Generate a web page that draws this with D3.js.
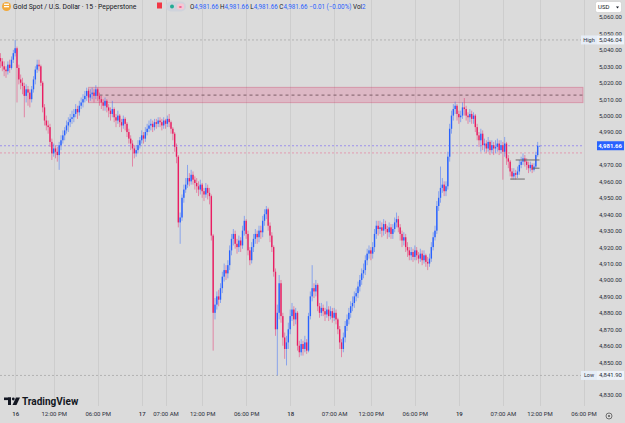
<!DOCTYPE html>
<html>
<head>
<meta charset="utf-8">
<script src="https://cdn.jsdelivr.net/npm/d3@7"></script>
<style>
  body { margin: 0; background: #dbdbdb; }
  svg { display: block; font-family: Roboto, "Liberation Sans", sans-serif; }
</style>
</head>
<body>
<svg id="chart"></svg>
<script>
// XAUUSD 15m, Pepperstone — one value per bar, bar 0 = first visible bar
const opens = [
  5035, 5033, 5030, 5028, 5027, 5031, 5029, 5034, 5038, 5041,
  5029, 5022, 5020, 5018, 5012, 5016, 5014, 5010, 5016, 5022,
  5028, 5031, 5030, 5020, 5005, 4997, 4994, 4993, 4984, 4977,
  4980, 4978, 4976, 4982, 4985, 4988, 4991, 4994, 4996, 4998,
  4999, 5001, 5004, 5002, 5006, 5008, 5010, 5012, 5015, 5011,
  5013, 5014, 5012, 5016, 5012, 5010, 5008, 5006, 5009, 5005,
  5003, 5001, 5004, 4999, 4997, 5000, 4996, 4994, 4998, 4995,
  4990, 4986, 4983, 4980, 4977, 4979, 4982, 4985, 4988, 4986,
  4990, 4992, 4994, 4995, 4993, 4996, 4995, 4997, 4996, 4994,
  4997, 4995, 4998, 4996, 4992, 4989, 4981, 4975, 4935, 4938,
  4950, 4955, 4958, 4962, 4960, 4964, 4961, 4959, 4957, 4955,
  4958, 4954, 4952, 4956, 4953, 4951, 4927, 4880, 4885, 4890,
  4888, 4895, 4902, 4906, 4904, 4909, 4918, 4925, 4928, 4922,
  4920, 4924, 4921, 4930, 4936, 4928, 4918, 4912, 4920, 4925,
  4928, 4926, 4930, 4929, 4936, 4940, 4943, 4933, 4927, 4920,
  4905, 4870, 4880, 4898, 4878, 4865, 4858, 4862, 4870, 4878,
  4882, 4876, 4880, 4860, 4856, 4861, 4858, 4862, 4857, 4878,
  4890, 4895, 4893, 4897, 4884, 4880, 4883, 4881, 4879, 4882,
  4878, 4881, 4877, 4880, 4876, 4870, 4862, 4858, 4865, 4872,
  4876, 4880, 4884, 4886, 4890, 4892, 4896, 4900, 4904, 4906,
  4912, 4916, 4918, 4916, 4920, 4928, 4933, 4931, 4932, 4930,
  4934, 4931, 4929, 4932, 4928, 4931, 4935, 4937, 4932, 4928,
  4924, 4926, 4920, 4918, 4915, 4917, 4914, 4918, 4915, 4913,
  4916, 4912, 4915, 4911, 4910, 4913, 4920, 4926, 4930, 4945,
  4950, 4956, 4958, 4954, 4957, 4975, 4992, 5000, 5004, 5006,
  5001, 4999, 5000, 5005, 5004, 5000, 4999, 5001, 4998, 5000,
  4993, 4988, 4985, 4989, 4982, 4983, 4980, 4984, 4979, 4982,
  4980, 4981, 4983, 4979, 4982, 4978, 4983, 4974, 4972, 4966,
  4963, 4965, 4964, 4966, 4970, 4972, 4974, 4972, 4970, 4968,
  4970, 4967, 4969, 4976, 4981.66
];
const highs = [
  5038, 5035, 5033, 5030, 5033, 5034, 5036, 5040, 5046.04, 5042,
  5031, 5025, 5023, 5020, 5019, 5018, 5016, 5018, 5024, 5030,
  5034, 5034, 5031, 5021, 5007, 5000, 4997, 4995, 4986, 4983,
  4982, 4981, 4984, 4988, 4991, 4993, 4997, 4999, 5001, 5003,
  5004, 5007, 5006, 5009, 5011, 5013, 5015, 5017, 5016, 5016,
  5017, 5016, 5018.5, 5017, 5014, 5012, 5010, 5011, 5010, 5007,
  5005, 5009, 5005, 5001, 5003, 5001, 4998, 5000, 4999, 4996,
  4992, 4988, 4985, 4982, 4982, 4985, 4987, 4991, 4990, 4993,
  4995, 4997, 4998, 4997, 4998, 4998, 4999, 4999, 4998, 4999,
  4998, 5000, 5001, 4997, 4993, 4990, 4983, 4976, 4941, 4952,
  4958, 4962, 4970, 4965, 4967, 4966, 4963, 4962, 4960, 4961,
  4959, 4956, 4959, 4958, 4956, 4952, 4928, 4889, 4893, 4894,
  4898, 4905, 4910, 4909, 4912, 4921, 4928, 4931, 4930, 4925,
  4927, 4926, 4933, 4939, 4937, 4930, 4920, 4923, 4928, 4931,
  4930, 4933, 4933, 4939, 4943, 4945, 4944, 4935, 4929, 4921,
  4907, 4885, 4903, 4900, 4880, 4868, 4866, 4874, 4882, 4886,
  4884, 4883, 4881, 4863, 4864, 4863, 4866, 4864, 4880, 4893,
  4909, 4898, 4900, 4898, 4886, 4886, 4885, 4883, 4887, 4884,
  4884, 4883, 4883, 4882, 4877, 4872, 4864, 4868, 4875, 4879,
  4883, 4887, 4890, 4893, 4895, 4899, 4903, 4907, 4910, 4915,
  4919, 4921, 4920, 4923, 4931, 4936, 4936, 4936, 4935, 4937,
  4936, 4933, 4935, 4934, 4934, 4938, 4941, 4939, 4934, 4930,
  4929, 4928, 4923, 4920, 4920, 4919, 4921, 4920, 4917, 4919,
  4918, 4918, 4916, 4914, 4916, 4923, 4929, 4933, 4948, 4954,
  4969, 4962, 4960, 4960, 4978, 4995, 5003, 5007, 5008.5, 5007,
  5003, 5003, 5008, 5010.7, 5006, 5002, 5004, 5003, 5002, 5001,
  4995, 4990, 4992, 4991, 4986, 4985, 4987, 4985, 4985, 4984,
  4985, 4986, 4985, 4985, 4984, 4987, 4984, 4976, 4973, 4968,
  4968, 4967, 4969, 4973, 4975, 4977, 4976, 4974, 4972, 4972,
  4971, 4971, 4978, 4984, 4981.66
];
const lows = [
  5029, 5027, 5024, 5023, 5025, 5026, 5028, 5032, 5036, 5008,
  5019, 5016, 5013, 4999, 5008, 5006, 5005, 5008, 5014, 5019,
  5026, 5027, 5018, 5002, 4994, 4991, 4989, 4981, 4973, 4975,
  4974, 4972, 4967, 4979, 4983, 4985, 4989, 4990, 4993, 4995,
  4996, 4999, 4998, 5000, 5004, 5005, 5008, 5009, 5008, 5009,
  5010, 5008, 5010, 5009, 5006, 5004, 5003, 5003, 5002, 4999,
  4997, 4999, 4996, 4993, 4995, 4993, 4990, 4992, 4991, 4987,
  4983, 4979, 4969, 4974, 4975, 4977, 4980, 4983, 4983, 4984,
  4988, 4990, 4991, 4990, 4991, 4992, 4993, 4993, 4991, 4992,
  4992, 4993, 4993, 4989, 4985, 4978, 4971, 4932, 4922, 4936,
  4947, 4953, 4956, 4957, 4958, 4958, 4955, 4953, 4951, 4952,
  4950, 4948, 4950, 4949, 4946, 4924, 4857, 4876, 4882, 4884,
  4886, 4892, 4899, 4900, 4901, 4906, 4915, 4921, 4919, 4916,
  4917, 4917, 4919, 4927, 4925, 4915, 4909, 4910, 4917, 4922,
  4922, 4923, 4925, 4926, 4933, 4937, 4930, 4923, 4917, 4902,
  4866, 4841.9, 4876, 4874, 4860, 4852, 4848, 4858, 4867, 4875,
  4872, 4873, 4857, 4853, 4854, 4854, 4856, 4855, 4856, 4876,
  4887, 4889, 4890, 4881, 4877, 4878, 4878, 4875, 4877, 4875,
  4876, 4874, 4875, 4873, 4867, 4858, 4853, 4856, 4862, 4869,
  4873, 4877, 4881, 4883, 4887, 4889, 4893, 4897, 4901, 4903,
  4909, 4913, 4912, 4913, 4917, 4925, 4927, 4928, 4926, 4927,
  4928, 4925, 4926, 4925, 4925, 4929, 4932, 4929, 4924, 4920,
  4921, 4917, 4914, 4912, 4912, 4911, 4912, 4912, 4910, 4911,
  4909, 4910, 4908, 4906, 4908, 4911, 4918, 4924, 4928, 4942,
  4947, 4953, 4951, 4951, 4955, 4972, 4989, 4997, 5001, 4997,
  4995, 4996, 4998, 5000, 4997, 4995, 4996, 4995, 4995, 4990,
  4985, 4981, 4978, 4979, 4978, 4977, 4978, 4976, 4977, 4976,
  4977, 4978, 4976, 4977, 4961, 4975, 4970, 4968, 4963, 4961,
  4961, 4961, 4962, 4964, 4968, 4970, 4969, 4967, 4965, 4966,
  4965, 4966, 4968, 4975, 4981.66
];
const closes = [
  5033, 5030, 5028, 5027, 5031, 5029, 5034, 5038, 5041, 5029,
  5022, 5020, 5018, 5012, 5016, 5014, 5010, 5016, 5022, 5028,
  5031, 5030, 5020, 5005, 4997, 4994, 4993, 4984, 4977, 4980,
  4978, 4976, 4982, 4985, 4988, 4991, 4994, 4996, 4998, 4999,
  5001, 5004, 5002, 5006, 5008, 5010, 5012, 5015, 5011, 5013,
  5014, 5012, 5016, 5012, 5010, 5008, 5006, 5009, 5005, 5003,
  5001, 5004, 4999, 4997, 5000, 4996, 4994, 4998, 4995, 4990,
  4986, 4983, 4980, 4977, 4979, 4982, 4985, 4988, 4986, 4990,
  4992, 4994, 4995, 4993, 4996, 4995, 4997, 4996, 4994, 4997,
  4995, 4998, 4996, 4992, 4989, 4981, 4975, 4935, 4938, 4950,
  4955, 4958, 4962, 4960, 4964, 4961, 4959, 4957, 4955, 4958,
  4954, 4952, 4956, 4953, 4951, 4927, 4880, 4885, 4890, 4888,
  4895, 4902, 4906, 4904, 4909, 4918, 4925, 4928, 4922, 4920,
  4924, 4921, 4930, 4936, 4928, 4918, 4912, 4920, 4925, 4928,
  4926, 4930, 4929, 4936, 4940, 4943, 4933, 4927, 4920, 4905,
  4870, 4880, 4898, 4878, 4865, 4858, 4862, 4870, 4878, 4882,
  4876, 4880, 4860, 4856, 4861, 4858, 4862, 4857, 4878, 4890,
  4895, 4893, 4897, 4884, 4880, 4883, 4881, 4879, 4882, 4878,
  4881, 4877, 4880, 4876, 4870, 4862, 4858, 4865, 4872, 4876,
  4880, 4884, 4886, 4890, 4892, 4896, 4900, 4904, 4906, 4912,
  4916, 4918, 4916, 4920, 4928, 4933, 4931, 4932, 4930, 4934,
  4931, 4929, 4932, 4928, 4931, 4935, 4937, 4932, 4928, 4924,
  4926, 4920, 4918, 4915, 4917, 4914, 4918, 4915, 4913, 4916,
  4912, 4915, 4911, 4910, 4913, 4920, 4926, 4930, 4945, 4950,
  4956, 4958, 4954, 4957, 4975, 4992, 5000, 5004, 5006, 5001,
  4999, 5000, 5005, 5004, 5000, 4999, 5001, 4998, 5000, 4993,
  4988, 4985, 4989, 4982, 4983, 4980, 4984, 4979, 4982, 4980,
  4981, 4983, 4979, 4982, 4978, 4983, 4974, 4972, 4966, 4963,
  4965, 4964, 4966, 4970, 4972, 4974, 4972, 4970, 4968, 4970,
  4967, 4969, 4976, 4981.6, 4981.66
];

// time axis: label and the bar it sits on
const timeLabels = ["16", "12:00 PM", "06:00 PM", "17", "07:00 AM", "12:00 PM", "06:00 PM",
                    "18", "07:00 AM", "12:00 PM", "06:00 PM", "19", "07:00 AM", "12:00 PM", "06:00 PM"];
const timeBars = [8, 29, 53, 77, 90, 110, 134, 158, 182, 202, 226, 250, 274, 294, 318];
const dayLabels = ["16", "17", "18", "19"];

const priceTicks = [5060, 5050, 5040, 5030, 5020, 5010, 5000, 4990, 4980, 4970, 4960, 4950, 4940,
                    4930, 4920, 4910, 4900, 4890, 4880, 4870, 4860, 4850, 4840, 4830];

const lastPrice = 4981.66;
const prevClose = 4977.3;
const highPrice = 5046.04;
const lowPrice = 4841.90;

// supply zone drawn on the chart (bars / prices)
const zoneStartBar = 48;
const zoneTop = 5017.2;
const zoneBottom = 5007.9;
const zoneMidStartBar = 54;
const zoneMid = 5012.5;

// small gray drawing lines near the end [fromBar, toBar, price]
const marks = [[281, 294, 4973.0], [278, 286, 4961.4], [290, 294, 4968.0]];

const W = 625, H = 423;
const plotRight = 583, plotBottom = 406;
const upColor = "#2962ff", downColor = "#e91e63";

const svg = d3.select("#chart").attr("width", W).attr("height", H);
svg.append("rect").attr("width", W).attr("height", H).attr("fill", "#dbdbdb");

const x = d3.scaleLinear().domain([0, 318]).range([0.5, 583.5]);
const y = d3.scaleLinear().domain([4830, 5060]).range([395, 17]);

const bars = closes.map((c, i) => ({ i, o: opens[i], h: highs[i], l: lows[i], c }));

// vertical grid
svg.append("g").selectAll("line").data(timeBars).join("line")
  .attr("x1", d => Math.round(x(d)) + 0.5).attr("x2", d => Math.round(x(d)) + 0.5)
  .attr("y1", 0).attr("y2", plotBottom)
  .attr("stroke", "#cdcdcd").attr("stroke-width", 1);

// zone
svg.append("rect")
  .attr("x", x(zoneStartBar)).attr("y", y(zoneTop))
  .attr("width", plotRight - x(zoneStartBar))
  .attr("height", y(zoneBottom) - y(zoneTop))
  .attr("fill", "rgba(233,30,99,0.18)")
  .attr("stroke", "rgba(200,60,100,0.35)").attr("stroke-width", 1);
svg.append("line")
  .attr("x1", x(zoneMidStartBar)).attr("x2", plotRight)
  .attr("y1", y(zoneMid)).attr("y2", y(zoneMid))
  .attr("stroke", "#8f6f7a").attr("stroke-width", 1.2).attr("stroke-dasharray", "3,3");

// price lines
const hline = (p, color, dash) => svg.append("line")
  .attr("x1", 0).attr("x2", plotRight).attr("y1", y(p)).attr("y2", y(p))
  .attr("stroke", color).attr("stroke-width", 0.8).attr("stroke-dasharray", dash);
hline(highPrice, "#a8a8a8", "2,2");
hline(lowPrice, "#a8a8a8", "2,2");
hline(prevClose, "#e48aa6", "2,2");
hline(lastPrice, "#8d7ff0", "2,2");

// candles
const cg = svg.append("g");
cg.selectAll("line").data(bars).join("line")
  .attr("x1", d => x(d.i)).attr("x2", d => x(d.i))
  .attr("y1", d => y(d.h)).attr("y2", d => y(d.l))
  .attr("stroke", d => d.c >= d.o ? upColor : downColor)
  .attr("stroke-opacity", 0.45).attr("stroke-width", 1);
cg.selectAll("rect").data(bars).join("rect")
  .attr("x", d => x(d.i) - 0.7).attr("width", 1.4)
  .attr("y", d => y(Math.max(d.o, d.c)))
  .attr("height", d => Math.max(0.8, Math.abs(y(d.o) - y(d.c))))
  .attr("fill", d => d.c >= d.o ? upColor : downColor);

// gray drawing lines
svg.append("g").selectAll("line").data(marks).join("line")
  .attr("x1", d => x(d[0])).attr("x2", d => x(d[1]))
  .attr("y1", d => y(d[2])).attr("y2", d => y(d[2]))
  .attr("stroke", "#6b6b6b").attr("stroke-width", 1);

// price axis (ticks hidden behind the price labels are skipped, as on the chart)
const labelled = [lastPrice, highPrice, lowPrice];
const shownTicks = priceTicks.filter(p => labelled.every(q => Math.abs(y(p) - y(q)) > 6));
const yAxis = svg.append("g").attr("transform", "translate(622,0)")
  .call(d3.axisLeft(y).tickValues(shownTicks).tickSize(0).tickPadding(0).tickFormat(d3.format(",.2f")));
yAxis.select(".domain").remove();
yAxis.selectAll("text").attr("font-size", 6).attr("fill", "#2a2e39").attr("font-family", "Roboto, sans-serif");

// time axis
const xAxis = svg.append("g").attr("transform", "translate(0,412)")
  .call(d3.axisBottom(x).tickValues(timeBars).tickSize(0).tickPadding(0)
    .tickFormat((d, i) => timeLabels[i]));
xAxis.select(".domain").remove();
xAxis.selectAll("text").attr("font-size", 6).attr("font-family", "Roboto, sans-serif")
  .attr("fill", "#2a2e39")
  .attr("font-weight", (d, i) => dayLabels.includes(timeLabels[i]) ? 500 : 400);

// high / low labels
function sideLabel(p, caption) {
  const g = svg.append("g").attr("transform", `translate(0,${y(p)})`);
  g.append("rect").attr("x", 581).attr("y", -4.5).attr("width", 16).attr("height", 9)
    .attr("fill", "#e6edf7");
  g.append("text").attr("x", 589).attr("y", 2).attr("text-anchor", "middle")
    .attr("font-size", 5.5).attr("fill", "#2a2e39").text(caption);
  g.append("rect").attr("x", 597).attr("y", -4.5).attr("width", 27).attr("height", 9)
    .attr("fill", "#eef2f8");
  g.append("text").attr("x", 622).attr("y", 2).attr("text-anchor", "end")
    .attr("font-size", 6).attr("fill", "#2a2e39").text(d3.format(",.2f")(p));
}
sideLabel(highPrice, "High");
sideLabel(lowPrice, "Low");

// last price label
const lp = svg.append("g").attr("transform", `translate(0,${y(lastPrice)})`);
lp.append("rect").attr("x", 597).attr("y", -4.5).attr("width", 27).attr("height", 9)
  .attr("fill", upColor);
lp.append("text").attr("x", 622).attr("y", 2).attr("text-anchor", "end")
  .attr("font-size", 6).attr("font-weight", 700).attr("fill", "#fff")
  .text(d3.format(",.2f")(lastPrice));

// header
svg.append("circle").attr("cx", 6.5).attr("cy", 6.5).attr("r", 4.5).attr("fill", "#f2a93b");
svg.append("rect").attr("x", 4).attr("y", 6).attr("width", 5).attr("height", 1.3).attr("fill", "#fff");
svg.append("rect").attr("x", 4).attr("y", 3.6).attr("width", 5).attr("height", 1.3).attr("fill", "#fff");
svg.append("text").attr("x", 13).attr("y", 9).attr("font-size", 6.8).attr("fill", "#131722")
  .text("Gold Spot / U.S. Dollar · 15 · Pepperstone");
svg.append("rect").attr("x", 157).attr("y", 2.5).attr("width", 5).attr("height", 6).attr("fill", "#f23645");
svg.append("rect").attr("x", 166).attr("y", 1.5).attr("width", 20).attr("height", 10).attr("rx", 5)
  .attr("fill", "#cfd3dc");
svg.append("circle").attr("cx", 172).attr("cy", 6.5).attr("r", 2).attr("fill", "#22ab94");
svg.append("rect").attr("x", 177).attr("y", 3.5).attr("width", 7).attr("height", 6).attr("rx", 2).attr("fill", "#f7c6d3");
svg.append("text").attr("x", 180.5).attr("y", 8.6).attr("text-anchor", "middle").attr("font-size", 6)
  .attr("fill", "#e91e63").text("=");

const fmt = d3.format(",.2f");
const ohlc = svg.append("text").attr("x", 190).attr("y", 9).attr("font-size", 6.3);
[["O", fmt(lastPrice)], [" H", fmt(lastPrice)], [" L", fmt(lastPrice)], [" C", fmt(lastPrice)]]
  .forEach(([k, v]) => {
    ohlc.append("tspan").attr("fill", "#131722").text(k);
    ohlc.append("tspan").attr("fill", upColor).text(v);
  });
ohlc.append("tspan").attr("fill", upColor).text(" \u22120.01 (\u22120.00%) ");
ohlc.append("tspan").attr("fill", "#131722").text("Vol");
ohlc.append("tspan").attr("fill", upColor).text("2");

// currency box
svg.append("rect").attr("x", 595.5).attr("y", 1.5).attr("width", 26).attr("height", 11).attr("rx", 2)
  .attr("fill", "#ffffff").attr("stroke", "#c9c9c9").attr("stroke-width", 0.6);
svg.append("text").attr("x", 598).attr("y", 9.2).attr("font-size", 6).attr("fill", "#131722").text("USD");
svg.append("path").attr("d", "M616,6.5 L619,6.5 L617.5,8.5 Z").attr("fill", "#131722");

// tradingview logo
const logo = svg.append("g").attr("fill", "#131722");
logo.append("rect").attr("x", 4).attr("y", 397.5).attr("width", 7).attr("height", 2.6);
logo.append("rect").attr("x", 8).attr("y", 397.5).attr("width", 3).attr("height", 7.5);
logo.append("circle").attr("cx", 13.3).attr("cy", 399).attr("r", 1.4);
logo.append("path").attr("d", "M16,397.5 L20,397.5 L16.5,405 L12.5,405 Z");
logo.append("text").attr("x", 22).attr("y", 405).attr("font-size", 10).attr("font-weight", 700)
  .text("TradingView");

// settings icon bottom right
svg.append("circle").attr("cx", 609).attr("cy", 416).attr("r", 3).attr("fill", "none")
  .attr("stroke", "#555").attr("stroke-width", 0.8);
svg.append("circle").attr("cx", 609).attr("cy", 416).attr("r", 1).attr("fill", "#555");
</script>
</body>
</html>
